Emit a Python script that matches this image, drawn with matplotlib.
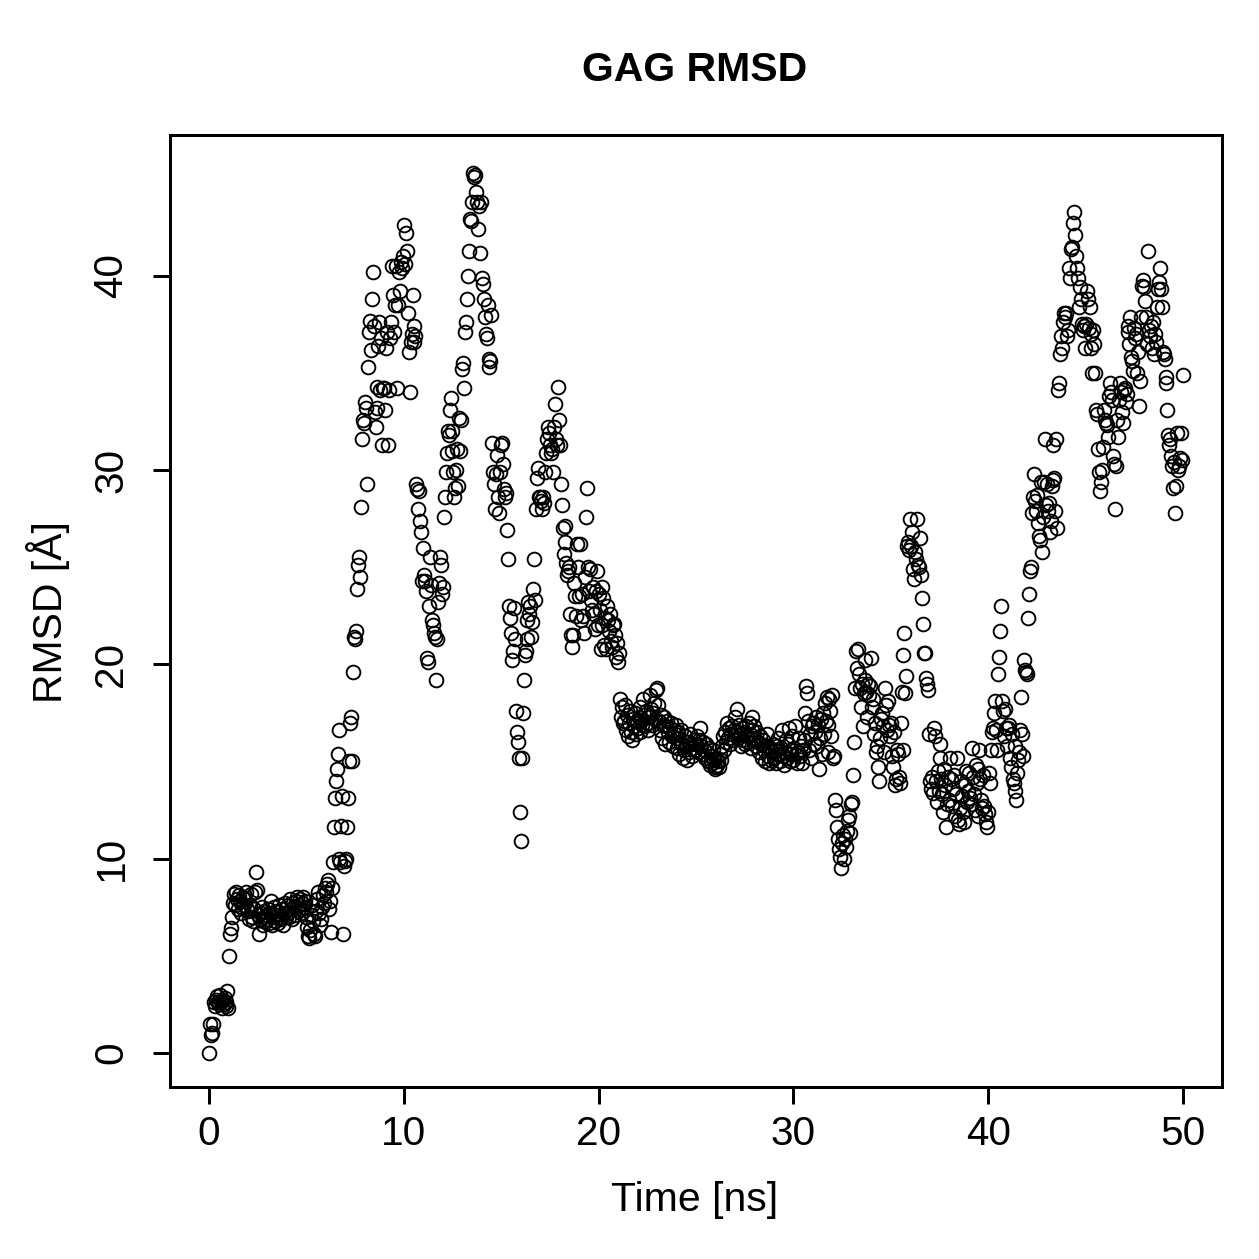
import numpy as np
import matplotlib
matplotlib.use("Agg")
import matplotlib.pyplot as plt

plt.rcParams['font.family'] = ['Liberation Sans', 'DejaVu Sans']

title = "GAG RMSD"
xlabel = "Time [ns]"
ylabel = "RMSD [Å]"
x_ticks = [0, 10, 20, 30, 40, 50]
y_ticks = [0, 10, 20, 30, 40]
t_start, t_end = 0.0, 50.0

# RMSD values (Å), one frame every 0.05 ns
rmsd_0_10 = [
    0.0, 1.5, 0.9, 1.0, 1.5, 2.6, 2.4, 2.7, 2.9, 2.6, 2.5, 3.0, 2.6, 2.3, 2.7, 2.5, 2.8, 2.4, 2.6, 3.2,
    2.3, 5.0, 6.1, 6.4, 7.0, 7.7, 8.2, 7.6, 8.3, 7.9, 7.4, 8.1, 7.8, 7.2, 7.5, 8.0, 7.6, 7.9, 8.3, 7.4,
    7.3, 6.9, 7.6, 8.2, 7.0, 6.8, 7.4, 8.3, 9.3, 8.4, 7.1, 6.1, 6.9, 7.2, 7.5, 6.6, 7.0, 7.3, 6.8, 7.1,
    6.9, 7.4, 6.7, 7.2, 7.8, 6.6, 7.0, 7.5, 6.8, 7.3, 7.1, 6.7, 7.6, 7.0, 6.9, 7.4, 6.6, 7.2, 7.7, 7.0,
    7.2, 7.6, 7.0, 7.9, 7.4, 6.9, 7.7, 7.5, 7.1, 7.8, 8.0, 7.3, 7.6, 7.9, 7.2, 7.7, 7.4, 8.0, 7.5, 7.8,
    7.0, 6.5, 6.0, 5.9, 6.3, 7.1, 7.6, 6.8, 6.1, 6.0, 7.3, 7.9, 8.3, 7.2, 6.6, 6.9, 7.5, 8.1, 7.7, 8.5,
    8.3, 8.7, 8.9, 7.4, 7.8, 6.2, 8.5, 9.8, 11.6, 13.1, 14.0, 14.6, 15.4, 16.6, 10.0, 9.8, 11.7, 13.2, 6.1, 9.6,
    9.9, 10.0, 11.6, 13.1, 15.0, 17.0, 17.3, 15.0, 19.6, 21.4, 21.3, 21.7, 23.9, 25.1, 25.5, 24.5, 28.1, 31.6, 32.6, 32.4,
    33.5, 33.2, 29.3, 35.3, 37.1, 37.7, 36.2, 38.8, 40.2, 37.4, 33.0, 32.2, 33.2, 34.3, 36.4, 37.6, 34.1, 36.8, 31.3, 34.2,
    34.2, 33.1, 36.3, 37.1, 31.3, 34.1, 36.8, 37.6, 40.5, 39.0, 37.1, 38.5, 40.5, 34.2, 38.5, 40.2, 39.2, 40.7, 40.4, 41.0,
]
rmsd_10_20 = [
    42.6, 40.6, 42.2, 41.3, 38.1, 36.1, 34.0, 36.6, 37.0, 39.0, 37.4, 36.6, 36.9, 29.3, 29.0, 28.0, 28.9, 27.4, 26.8, 24.3,
    26.0, 24.6, 24.3, 23.8, 20.3, 20.1, 23.0, 25.5, 24.1, 22.3, 22.0, 21.6, 21.4, 19.2, 21.3, 23.2, 24.2, 25.5, 25.1, 23.6,
    24.0, 27.6, 28.6, 29.9, 30.9, 32.0, 31.8, 33.1, 33.7, 32.0, 31.0, 29.9, 28.6, 29.1, 30.0, 31.1, 29.2, 32.7, 31.0, 32.6,
    35.2, 35.5, 34.2, 37.1, 37.6, 38.8, 40.0, 41.3, 42.9, 42.8, 43.8, 45.3, 45.1, 45.2, 44.3, 43.8, 42.4, 43.6, 41.2, 43.8,
    39.9, 39.6, 38.8, 37.9, 37.0, 36.8, 38.5, 35.7, 35.3, 35.6, 38.0, 31.4, 29.9, 29.3, 28.0, 29.8, 30.8, 28.6, 27.8, 29.9,
    31.3, 31.4, 30.3, 29.0, 28.6, 28.8, 26.9, 25.4, 23.0, 22.4, 21.6, 20.2, 20.7, 22.9, 21.3, 17.6, 16.5, 16.0, 15.2, 12.4,
    10.9, 15.2, 17.5, 19.2, 20.5, 20.7, 21.3, 22.3, 23.2, 22.6, 23.0, 21.4, 22.2, 23.9, 25.4, 23.3, 28.0, 29.6, 30.1, 28.6,
    28.6, 28.4, 28.0, 28.6, 28.3, 29.9, 30.9, 31.6, 32.2, 31.9, 31.3, 30.9, 31.1, 29.9, 32.2, 33.4, 31.6, 31.3, 34.3, 32.6,
    31.3, 29.3, 28.2, 27.0, 25.7, 27.1, 26.3, 25.2, 24.6, 24.8, 25.0, 22.6, 21.5, 20.9, 21.5, 24.2, 23.5, 22.5, 26.2, 25.0,
    23.5, 26.2, 22.3, 23.6, 22.5, 21.6, 24.5, 27.6, 29.1, 25.0, 23.8, 24.9, 23.3, 22.8, 24.0, 22.6, 21.8, 23.8, 24.8, 22.0,
]
rmsd_20_30 = [
    23.6, 22.8, 20.8, 22.0, 24.0, 23.4, 21.0, 22.4, 20.8, 23.0, 22.3, 21.7, 22.6, 21.2, 20.9, 22.0, 22.1, 21.5, 20.4, 21.1,
    20.1, 20.6, 18.2, 17.3, 17.8, 17.0, 17.1, 17.9, 16.6, 17.4, 16.3, 17.0, 17.6, 16.5, 16.1, 17.2, 16.8, 17.5, 16.4, 17.1,
    16.7, 17.3, 16.5, 17.8, 17.1, 16.9, 18.2, 17.4, 16.8, 17.6, 17.0, 16.6, 17.3, 18.4, 17.7, 16.9, 17.5, 18.0, 17.2, 18.7,
    18.8, 17.9, 17.1, 16.6, 17.4, 16.2, 16.9, 17.3, 15.9, 16.8, 17.1, 16.5, 16.0, 16.7, 17.0, 16.3, 15.8, 16.6, 16.4, 16.9,
    16.2, 15.7, 16.5, 15.4, 16.0, 16.6, 15.9, 15.2, 15.6, 16.3, 15.8, 15.1, 16.0, 15.5, 16.4, 15.9, 15.3, 15.7, 16.1, 15.6,
    15.9, 16.3, 15.5, 16.1, 16.7, 15.8, 15.4, 16.0, 15.6, 15.2, 15.9, 15.5, 15.0, 15.7, 14.8, 15.3, 14.9, 15.6, 15.1, 14.7,
    14.6, 15.2, 14.8, 15.0, 14.7, 15.4, 15.1, 15.8, 16.3, 15.6, 16.5, 16.0, 17.0, 16.2, 16.7, 15.9, 16.4, 16.8, 16.1, 16.6,
    17.3, 16.5, 17.7, 16.2, 16.9, 16.4, 15.8, 16.7, 16.1, 16.5, 15.9, 16.8, 16.3, 16.0, 17.0, 16.4, 15.7, 16.6, 17.3, 16.2,
    16.8, 16.1, 15.8, 16.5, 16.0, 15.5, 16.3, 15.9, 15.2, 16.1, 15.6, 15.0, 15.8, 16.4, 15.3, 14.9, 15.7, 15.1, 15.5, 15.9,
    15.2, 15.6, 14.9, 15.8, 16.2, 15.4, 15.0, 15.7, 16.6, 15.3, 14.8, 15.5, 16.1, 15.2, 15.9, 16.7, 15.4, 15.0, 15.6, 16.3,
]
rmsd_30_40 = [
    15.1, 15.7, 16.8, 15.4, 14.9, 15.5, 16.2, 15.3, 15.8, 14.9, 15.6, 16.1, 17.5, 18.9, 18.5, 17.1, 15.6, 16.4, 15.2, 16.8,
    17.0, 15.9, 16.5, 17.3, 15.8, 16.9, 14.6, 16.2, 17.2, 15.4, 17.5, 16.4, 18.0, 17.1, 18.3, 16.9, 15.5, 18.2, 17.6, 16.3,
    18.4, 15.2, 15.3, 13.0, 12.5, 11.6, 11.0, 10.5, 10.1, 9.5, 10.8, 11.2, 10.0, 11.0, 10.6, 11.4, 12.0, 12.2, 11.3, 12.8,
    12.9, 14.3, 16.0, 18.8, 20.7, 19.8, 20.8, 19.5, 18.8, 17.8, 19.0, 16.8, 18.5, 19.2, 20.2, 18.6, 17.3, 19.0, 18.4, 18.9,
    20.3, 17.8, 18.2, 16.4, 17.0, 15.5, 15.8, 14.7, 14.0, 16.2, 17.2, 17.5, 16.8, 15.5, 18.8, 17.9, 16.6, 18.1, 16.9, 16.3,
    17.0, 15.3, 14.7, 16.5, 13.8, 14.1, 15.6, 15.4, 14.2, 13.9, 17.0, 18.6, 15.6, 20.5, 21.6, 18.5, 19.4, 26.1, 26.3, 25.9,
    27.5, 26.1, 26.8, 24.9, 24.4, 25.8, 25.4, 27.5, 25.1, 25.0, 26.5, 24.6, 23.4, 22.1, 20.6, 20.6, 19.3, 19.0, 18.7, 16.4,
    14.0, 13.6, 14.2, 13.4, 16.7, 16.3, 14.0, 12.9, 14.5, 13.5, 15.9, 15.2, 14.1, 13.3, 12.4, 14.6, 13.8, 11.6, 12.8, 14.2,
    13.0, 15.2, 14.1, 12.7, 13.6, 14.3, 12.2, 13.3, 15.2, 12.0, 11.8, 12.6, 14.0, 13.2, 12.4, 11.9, 13.8, 14.5, 12.9, 13.5,
    14.4, 13.1, 12.8, 15.7, 14.2, 13.3, 12.5, 14.8, 13.9, 12.2, 14.6, 15.6, 14.1, 13.0, 12.6, 14.3, 12.7, 12.3, 11.9, 11.6,
]
rmsd_40_50 = [
    12.4, 14.4, 13.9, 15.6, 16.5, 16.7, 17.5, 18.1, 16.6, 15.6, 19.5, 20.4, 21.7, 23.0, 18.1, 17.6, 16.3, 17.7, 16.7, 15.8,
    16.7, 16.9, 15.2, 14.7, 16.4, 14.1, 13.9, 15.8, 13.5, 13.0, 14.4, 15.1, 15.5, 16.6, 18.3, 16.4, 15.3, 20.2, 19.7, 19.6,
    19.5, 22.4, 23.6, 24.8, 25.0, 27.8, 28.6, 29.8, 28.4, 27.9, 28.7, 27.3, 26.6, 26.4, 29.4, 25.8, 27.6, 29.4, 31.6, 28.2,
    29.3, 27.9, 28.3, 26.8, 27.4, 29.2, 29.5, 31.3, 29.6, 27.9, 31.6, 27.0, 34.1, 34.5, 36.0, 36.9, 36.3, 37.6, 38.1, 37.9,
    38.1, 36.9, 37.2, 40.4, 39.9, 41.4, 41.5, 42.7, 43.3, 42.1, 41.0, 40.4, 39.9, 38.4, 39.4, 38.8, 37.5, 37.2, 37.4, 36.3,
    37.5, 39.2, 38.8, 37.3, 38.4, 37.0, 36.3, 35.0, 37.2, 36.5, 35.0, 33.1, 32.9, 31.1, 29.9, 28.9, 29.4, 30.0, 31.2, 33.1,
    32.6, 32.4, 32.3, 31.7, 33.8, 34.5, 34.0, 33.6, 30.7, 30.3, 28.0, 30.2, 32.6, 31.7, 33.6, 34.5, 34.0, 33.0, 32.4, 34.1,
    34.2, 33.5, 33.9, 37.4, 37.1, 36.5, 37.9, 35.8, 35.6, 35.1, 37.3, 36.8, 37.0, 35.0, 36.1, 33.3, 34.6, 37.9, 39.5, 39.8,
    39.4, 38.7, 37.9, 36.5, 41.3, 37.2, 36.9, 37.4, 36.3, 37.6, 36.0, 37.0, 36.6, 38.4, 39.3, 39.7, 40.4, 39.3, 38.4, 36.1,
    36.0, 35.7, 34.8, 34.5, 33.1, 31.8, 31.3, 31.6, 30.7, 30.2, 29.1, 30.4, 27.8, 29.2, 31.9, 30.0, 30.2, 30.6, 31.9, 30.5,
    34.9,
]

rmsd = np.array(rmsd_0_10 + rmsd_10_20 + rmsd_20_30 + rmsd_30_40 + rmsd_40_50)
time_ns = np.linspace(t_start, t_end, len(rmsd))

W = H = 1259
dpi = 180
fig = plt.figure(figsize=(W / dpi, H / dpi), dpi=dpi)
ax = fig.add_axes([170 / W, 1 - 1087 / H, (1222 - 170) / W, (1087 - 135) / H])

ax.plot(time_ns, rmsd, linestyle='none', marker='o', markersize=5.5,
        markerfacecolor='none', markeredgecolor='black', markeredgewidth=0.75)

ax.set_xlim(-2, 52)
ax.set_ylim(-1.76, 47.25)
ax.set_xticks(x_ticks)
ax.set_yticks(y_ticks)
ax.set_xticklabels([str(v) for v in x_ticks])
ax.set_yticklabels([str(v) for v in y_ticks], rotation=90, va='center')

for s in ax.spines.values():
    s.set_linewidth(1.2)
    s.set_color('black')

ax.tick_params(axis='both', direction='out', length=6.8, width=1.2,
               labelsize=16.2, colors='black')
ax.tick_params(axis='x', pad=4.5)
ax.tick_params(axis='y', pad=9.0)

ax.set_xlabel(xlabel, fontsize=16.4)
ax.set_ylabel(ylabel, fontsize=16.4)
ax.xaxis.set_label_coords((695 - 170) / 1052, (1087 - 1200) / 952)
ax.xaxis.label.set_va('center')
ax.yaxis.set_label_coords((48 - 170) / 1052, (1087 - 612) / 952)
ax.yaxis.label.set_va('center')

fig.text(695 / W, 1 - 70 / H, title, ha='center', va='center',
         fontsize=16.4, fontweight='bold')

fig.savefig('out.png', dpi=dpi, facecolor='white')
